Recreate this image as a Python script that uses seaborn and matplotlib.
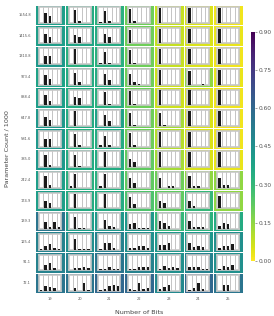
import numpy as np
import pandas as pd
import matplotlib
matplotlib.use("Agg")
import matplotlib.pyplot as plt
import seaborn as sns

bits = [19, 20, 21, 22, 23, 24, 25]
params = ["1554.8", "1415.6", "1310.8", "973.4", "888.4", "647.8", "581.6",
          "385.0", "242.4", "174.9", "139.3", "125.4", "91.1", "72.1"]

# heatmap value per row (one per bit width)
heat = [
    [0.40, 0.35, 0.33, 0.20, 0.08, 0.05, 0.02],
    [0.40, 0.37, 0.35, 0.20, 0.08, 0.05, 0.03],
    [0.42, 0.33, 0.33, 0.20, 0.08, 0.05, 0.02],
    [0.38, 0.35, 0.35, 0.20, 0.07, 0.15, 0.03],
    [0.40, 0.35, 0.33, 0.20, 0.07, 0.05, 0.02],
    [0.42, 0.35, 0.38, 0.20, 0.12, 0.05, 0.02],
    [0.42, 0.33, 0.35, 0.20, 0.10, 0.05, 0.02],
    [0.42, 0.35, 0.35, 0.22, 0.12, 0.05, 0.03],
    [0.40, 0.33, 0.33, 0.22, 0.20, 0.15, 0.15],
    [0.40, 0.35, 0.35, 0.25, 0.22, 0.30, 0.15],
    [0.55, 0.40, 0.42, 0.42, 0.30, 0.32, 0.35],
    [0.50, 0.45, 0.50, 0.45, 0.42, 0.42, 0.45],
    [0.50, 0.50, 0.55, 0.50, 0.45, 0.50, 0.45],
    [0.55, 0.55, 0.60, 0.60, 0.48, 0.60, 0.55],
]

# small bar charts inside each cell, 5 bins each
one = [0.95, 0, 0, 0, 0]
bars_1554 = [[0, .6, .45, 0, 0], [0, .85, .15, 0, 0], [.08, .75, .15, 0, 0], [.9, .1, 0, 0, 0], one, one, one]
bars_1415 = [[0, .6, .4, 0, 0], [0, .55, .4, 0, 0], [0, .6, .4, 0, 0], [.85, .05, 0, 0, 0], one, one, one]
bars_1310 = [[0, .5, .5, 0, 0], [0, .95, 0, 0, 0], [.08, .8, .08, 0, 0], [.9, .08, 0, 0, 0], one, one, one]
bars_973 = [[0, .6, .35, 0, 0], [0, .75, .2, 0, 0], [0, .7, .3, 0, 0], [.7, .15, .05, 0, 0], one, [.9, 0, 0, .05, 0], one]
bars_888 = [[0, .65, .25, 0, 0], [0, .5, .45, 0, 0], [0, .85, .08, 0, 0], [.9, .08, 0, 0, 0], one, one, one]
bars_647 = [[0, .6, .4, 0, 0], [0, .95, 0, 0, 0], [0, .7, .3, 0, 0], [.85, .05, 0, 0, 0], [.85, .05, 0, 0, 0], one, one]
bars_581 = [[0, .45, .45, 0, 0], [0, .8, .1, 0, 0], [.08, .7, .08, 0, 0], [.85, .1, 0, 0, 0], one, one, one]
bars_385 = [[0, .8, .15, 0, 0], [0, .8, .05, 0, 0], [0, .95, 0, 0, 0], [.55, .3, 0, 0, 0], one, one, one]
bars_242 = [[0, .75, .15, 0, 0], [.1, .9, 0, 0, 0], [.08, .9, 0, 0, 0], [.6, .3, 0, 0, 0],
            [.65, 0, .12, .08, 0], [.75, .1, .1, 0, 0], [.6, .2, .15, 0, 0]]
bars_174 = [[0, .5, .35, 0, 0], [0, .9, 0, .05, 0], [.05, .9, 0, 0, .05], [.7, .3, 0, 0, 0],
            [.5, .35, 0, 0, 0], [.45, .15, .05, .05, .05], [.8, .05, 0, .05, 0]]
bars_139 = [[0, .45, .1, .45, .1], [0, .75, .05, .05, 0], [0, .6, .2, .1, 0], [.3, .35, .05, .05, .05],
            [.5, .35, .2, 0, 0], [.5, .15, .15, .1, 0], [.2, .4, .3, 0, 0]]
bars_125 = [[.05, .2, .35, .12, .05], [0, .65, .05, .05, .05], [.05, .4, .4, .08, 0], [.08, .08, .25, .25, .1],
            [.3, .3, .4, 0, 0], [.4, .15, .2, .15, 0], [.1, .25, .25, .35, 0]]
bars_91 = [[0, .3, .45, .15, 0], [0, .15, .12, .2, .12], [.1, .05, .2, .1, .1], [.05, .1, .2, .2, .2],
           [.1, .25, .15, .2, .15], [.2, .2, .2, .1, .1], [.1, .25, .2, .35, 0]]
bars_72 = [[.05, .3, .25, .2, 0], [0, .15, 0, .5, .08], [.05, .1, .3, .35, .3], [.1, .05, .5, .1, .2],
           [.1, .25, .35, 0, 0], [.05, .15, .5, .1, 0], [0, .35, .35, 0, 0]]
cell_bars = [bars_1554, bars_1415, bars_1310, bars_973, bars_888, bars_647, bars_581,
             bars_385, bars_242, bars_174, bars_139, bars_125, bars_91, bars_72]
bins = [0, 1, 2, 3, 4]

df = pd.DataFrame(heat, index=params, columns=bits)

fig = plt.figure(figsize=(2.74, 3.16), dpi=100)
ax = fig.add_axes([0.128, 0.072, 0.759, 0.913])
cax = fig.add_axes([0.916, 0.174, 0.015, 0.725])

sns.heatmap(df, ax=ax, cbar_ax=cax, cmap="viridis_r", vmin=0, vmax=0.9,
            linewidths=0.6, linecolor="white",
            cbar_kws={"ticks": [0, 0.15, 0.3, 0.45, 0.6, 0.75, 0.9]})
cax.set_yticklabels(["0.00", "0.15", "0.30", "0.45", "0.60", "0.75", "0.90"])
cax.tick_params(labelsize=4.2, colors="#555555", length=1.5, width=0.4, pad=1)
ax.collections[0].colorbar.outline.set_visible(False)

ax.tick_params(axis="both", labelsize=2.6, colors="#555555", length=0, pad=3)
ax.set_yticklabels(params, rotation=0)
ax.set_xticklabels(bits, rotation=0)
ax.set_xlabel("Number of Bits", fontsize=4.6, color="#444444", labelpad=6)
ax.set_ylabel("Parameter Count / 1000", fontsize=4.6, color="#444444", labelpad=6)

nr, nc = len(params), len(bits)
mx, my = 0.13, 0.12
for i in range(nr):
    for j in range(nc):
        iax = ax.inset_axes([(j + mx) / nc, 1 - (i + 1 - my) / nr,
                             (1 - 2 * mx) / nc, (1 - 2 * my) / nr])
        iax.set_facecolor("white")
        sns.barplot(x=bins, y=cell_bars[i][j], ax=iax, color="#1a1a1a",
                    width=0.55, saturation=1, zorder=3)
        iax.set_xlim(-0.5, 4.5)
        iax.set_ylim(0, 1)
        for b in [0.5, 1.5, 2.5, 3.5]:
            iax.axvline(b, color="#c4c4c4", lw=0.7, zorder=1)
        iax.set_xticks([])
        iax.set_yticks([])
        iax.set_xlabel("")
        iax.set_ylabel("")
        for s in iax.spines.values():
            s.set_color("#c8c8c8")
            s.set_linewidth(1.2)

fig.savefig("out.png", dpi=100)
